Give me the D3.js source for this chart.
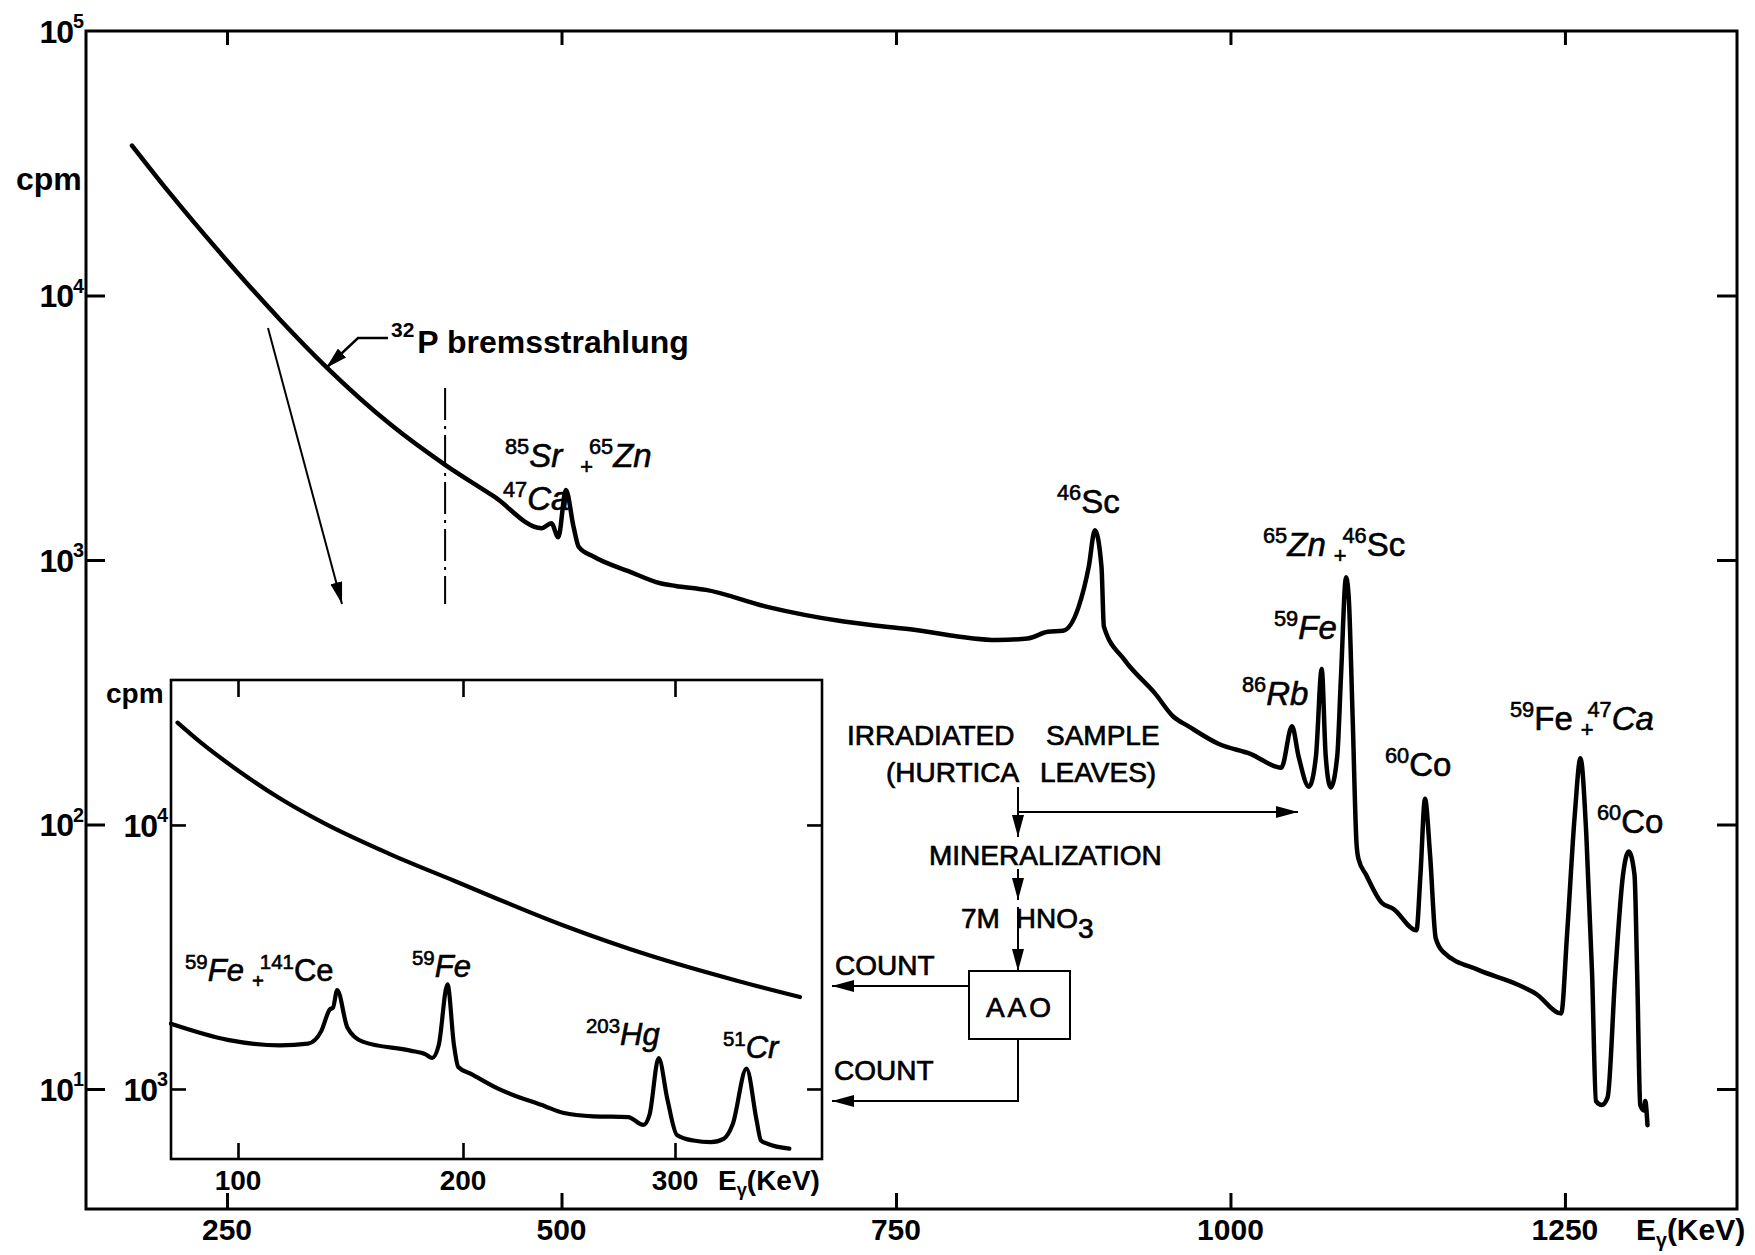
<!DOCTYPE html>
<html>
<head>
<meta charset="utf-8">
<script src="https://cdn.jsdelivr.net/npm/d3@7"></script>
<style>
  html, body { margin: 0; padding: 0; background: #fff; }
  svg { display: block; }
</style>
</head>
<body>
<svg id="chart" width="1755" height="1255"></svg>
<script>
// ---------------- DATA ----------------
// Main spectrum (irradiated sample), energy in keV, counts in cpm
const mainEnergy = [179, 206, 248, 289.5, 324.6, 373, 413, 449.8, 485.1, 492.4, 497.6, 503.3, 509, 512.9, 524.2,
  550.9, 573.8, 585.2, 608, 653.8, 711, 760.6, 825.5, 848.3, 863.6, 874.8, 886.5, 894.1, 898.7, 903.6, 905.4,
  920.8, 943.6, 957.2, 968.7, 991.8, 1014.9, 1038, 1046, 1050.9, 1058.7, 1063.9, 1068.2, 1071.2, 1074.9, 1079.8,
  1082.6, 1086.4, 1088.4, 1091.3, 1094.2, 1095.7, 1101.4, 1113, 1121.7, 1139, 1142, 1145.4, 1149.2, 1153.4, 1159.2,
  1185.2, 1214, 1228.4, 1247.2, 1251.6, 1257.3, 1261.6, 1266, 1270.3, 1273.2, 1277.5, 1281.9, 1287.6, 1293.4,
  1297.7, 1302, 1304, 1306.3, 1309.1, 1310, 1311.7];
const mainCounts = [36900, 24800, 13900, 8120, 5340, 3230, 2290, 1735, 1318, 1377, 1219, 1840, 1336, 1122, 1029,
  904, 817, 798, 771, 665, 585, 547, 498, 505, 535, 540, 665, 944, 1297, 944, 560,
  419, 313, 256, 235, 201, 185, 164, 235, 181, 139, 181, 387, 181, 138, 181,
  362, 861, 721, 256, 85, 74, 64.5, 50.6, 48, 39.8, 64.5, 125, 76.7, 37.2, 32.9,
  28.2, 24.9, 22.9, 19.3, 38.5, 108, 178, 91, 27.2, 9.0, 8.7, 9.3, 27.2, 64.5,
  79, 64.5, 27.2, 8.7, 8.3, 9.0, 7.3];

// Inset: upper curve (sample before AAO) and lower curve (after AAO)
const insetUpperEnergy = [73.1, 83.8, 99.2, 118, 138, 167, 196, 247.1, 288.2, 329.2, 358.9];
const insetUpperCounts = [24400, 20400, 16260, 12700, 10180, 7790, 6150, 4170, 3200, 2570, 2230];
const insetLowerEnergy = [70.2, 95.4, 118.6, 131.2, 137, 140.8, 142.2, 144.1, 148.6, 155.4, 176.6, 183.4, 186.3,
  189.2, 193.1, 196, 197.9, 204, 216.3, 238.9, 247.1, 261.5, 277.9, 285.1, 288, 292.3, 296.4, 300.9, 308.7,
  316.9, 323.1, 327.2, 333.7, 338.5, 340.5, 343.6, 353.9];
const insetLowerCounts = [1766, 1535, 1463, 1486, 1656, 2000, 2030, 2370, 1711, 1511, 1397, 1353, 1310,
  1463, 2490, 1463, 1211, 1138, 1005, 859, 813, 788, 783, 731, 800, 1310, 914, 670, 638,
  629, 649, 735, 1194, 758, 638, 620, 594];

// Tick values
const mainXTicks = [250, 500, 750, 1000, 1250];
const mainYExponents = [1, 2, 3, 4, 5];
const insetXTicks = [100, 200, 300];
const insetYExponents = [3, 4];

// ---------------- DRAWING ----------------
const svg = d3.select("#chart");
const FONT = "'Liberation Sans', Arial, sans-serif";

// Main scales
const M = { left: 86, right: 1737, top: 31, bottom: 1209 };
const x = d3.scaleLinear().domain([144.6, 1378.6]).range([M.left, M.right]);
const y = d3.scaleLog().domain([3.518, 1e5]).range([M.bottom, M.top]);

// Inset scales (slightly non-linear energy axis of the original)
const I = { left: 171, right: 822, top: 680, bottom: 1159 };
const xi = d3.scaleLinear().domain([70.2, 100, 200, 300, 369.3]).range([I.left, 238, 463, 675, I.right]);
const yi = d3.scaleLog().domain([543, 35400]).range([I.bottom, I.top]);

// arrow marker
const defs = svg.append("defs");
defs.append("marker").attr("id", "arr").attr("viewBox", "0 0 22 12")
  .attr("refX", 22).attr("refY", 6).attr("markerWidth", 22).attr("markerHeight", 12)
  .attr("markerUnits", "userSpaceOnUse").attr("orient", "auto")
  .append("path").attr("d", "M0,0 L22,6 L0,12 Z").attr("fill", "#000");

// ---------- main frame & axes ----------
svg.append("rect").attr("x", M.left).attr("y", M.top)
  .attr("width", M.right - M.left).attr("height", M.bottom - M.top)
  .attr("fill", "none").attr("stroke", "#000").attr("stroke-width", 3);

function styleAxis(g, w) {
  g.select(".domain").remove();
  g.selectAll(".tick line").attr("stroke", "#000").attr("stroke-width", w);
  g.selectAll(".tick text").remove();
}
const yTickVals = mainYExponents.filter(e => e < 5).map(e => Math.pow(10, e));
svg.append("g").attr("transform", `translate(${M.left},0)`)
  .call(d3.axisRight(y).tickValues(yTickVals).tickSize(19).tickFormat(""))
  .call(g => styleAxis(g, 3));
svg.append("g").attr("transform", `translate(${M.right},0)`)
  .call(d3.axisLeft(y).tickValues(yTickVals).tickSize(20).tickFormat(""))
  .call(g => styleAxis(g, 3));
svg.append("g").attr("transform", `translate(0,${M.bottom})`)
  .call(d3.axisTop(x).tickValues(mainXTicks).tickSize(16).tickFormat(""))
  .call(g => styleAxis(g, 3));
svg.append("g").attr("transform", `translate(0,${M.top})`)
  .call(d3.axisBottom(x).tickValues(mainXTicks).tickSize(14).tickFormat(""))
  .call(g => styleAxis(g, 3));

// power-of-ten labels
function powLabel(xr, yc, e, size) {
  const t = svg.append("text").attr("x", xr).attr("y", yc + size * 0.37)
    .attr("text-anchor", "end").attr("font-family", FONT).attr("font-weight", "bold")
    .attr("font-size", size).attr("letter-spacing", -1);
  t.append("tspan").text("10");
  t.append("tspan").attr("dy", -size * 0.45).attr("font-size", size * 0.62).text(e);
}
mainYExponents.forEach(e => powLabel(83, y(Math.pow(10, e)), e, 32));

svg.selectAll("text.mx").data(mainXTicks).enter().append("text").attr("class", "mx")
  .attr("x", d => x(d)).attr("y", 1240).attr("text-anchor", "middle")
  .attr("font-family", FONT).attr("font-weight", "bold").attr("font-size", 30).text(d => d);

function eLabel(xl, yb, size) {
  const t = svg.append("text").attr("x", xl).attr("y", yb).attr("font-family", FONT)
    .attr("font-weight", "bold").attr("font-size", size);
  t.append("tspan").text("E");
  t.append("tspan").attr("dy", size * 0.22).attr("font-size", size * 0.65).text("γ");
  t.append("tspan").attr("dy", -size * 0.22).text("(KeV)");
}
eLabel(1636, 1240, 30);

svg.append("text").attr("x", 16).attr("y", 190).attr("font-family", FONT)
  .attr("font-weight", "bold").attr("font-size", 32).text("cpm");

// ---------- main curve ----------
const mainData = mainEnergy.map((e, i) => [e, mainCounts[i]]);
const lineMain = d3.line().x(d => x(d[0])).y(d => y(d[1])).curve(d3.curveMonotoneX);
svg.append("path").datum(mainData).attr("d", lineMain)
  .attr("fill", "none").attr("stroke", "#000").attr("stroke-width", 4.5)
  .attr("stroke-linejoin", "round").attr("stroke-linecap", "round");

// ---------- isotope labels ----------
function iso(xl, yb, segs, size) {
  size = size || 33;
  const t = svg.append("text").attr("x", xl).attr("y", yb).attr("font-family", FONT)
    .attr("font-size", size).attr("stroke", "#000").attr("stroke-width", 0.6);
  let cur = 0;
  segs.forEach(s => {
    let shift = 0, fs = size;
    if (s.sup) { shift = -size * 0.4; fs = size * 0.66; }
    if (s.plus) { shift = size * 0.22; fs = size * 0.66; }
    const ts = t.append("tspan").attr("dy", shift - cur).attr("font-size", fs).text(s.t);
    if (s.it) ts.attr("font-style", "italic");
    if (s.dx) ts.attr("dx", s.dx);
    cur = shift;
  });
}
iso(505, 467, [{ t: "85", sup: 1 }, { t: "Sr", it: 1 }, { t: "+", plus: 1, dx: 18 }, { t: "65", sup: 1, dx: -4 }, { t: "Zn", it: 1 }]);
iso(503, 510, [{ t: "47", sup: 1 }, { t: "Ca", it: 1 }]);
iso(1057, 513, [{ t: "46", sup: 1 }, { t: "Sc" }]);
iso(1263, 556, [{ t: "65", sup: 1 }, { t: "Zn", it: 1 }, { t: "+", plus: 1, dx: 8 }, { t: "46", sup: 1, dx: -4 }, { t: "Sc" }]);
iso(1274, 639, [{ t: "59", sup: 1 }, { t: "Fe", it: 1 }]);
iso(1242, 705, [{ t: "86", sup: 1 }, { t: "Rb", it: 1 }]);
iso(1385, 776, [{ t: "60", sup: 1 }, { t: "Co" }]);
iso(1510, 730, [{ t: "59", sup: 1 }, { t: "Fe" }, { t: "+", plus: 1, dx: 8 }, { t: "47", sup: 1, dx: -6 }, { t: "Ca", it: 1 }]);
iso(1597, 833, [{ t: "60", sup: 1 }, { t: "Co" }]);

// ---------- bremsstrahlung annotation ----------
svg.append("path").attr("d", "M388,338 L358,338 L326,368").attr("fill", "none")
  .attr("stroke", "#000").attr("stroke-width", 2.5).attr("marker-end", "url(#arr)");
{
  const t = svg.append("text").attr("x", 391).attr("y", 353).attr("font-family", FONT)
    .attr("font-weight", "bold").attr("font-size", 32);
  t.append("tspan").attr("dy", -16).attr("font-size", 21).text("32");
  t.append("tspan").attr("dy", 16).attr("dx", 3).text("P bremsstrahlung");
}
svg.append("line").attr("x1", 268).attr("y1", 328).attr("x2", 342).attr("y2", 604)
  .attr("stroke", "#000").attr("stroke-width", 2).attr("marker-end", "url(#arr)");
svg.append("line").attr("x1", x(413)).attr("x2", x(413)).attr("y1", 388).attr("y2", 604)
  .attr("stroke", "#000").attr("stroke-width", 2).attr("stroke-dasharray", "32,6,3,6");

// ---------- inset ----------
svg.append("rect").attr("x", I.left).attr("y", I.top)
  .attr("width", I.right - I.left).attr("height", I.bottom - I.top)
  .attr("fill", "#fff").attr("stroke", "#000").attr("stroke-width", 2.6);
const yiTickVals = insetYExponents.map(e => Math.pow(10, e));
svg.append("g").attr("transform", `translate(${I.left},0)`)
  .call(d3.axisRight(yi).tickValues(yiTickVals).tickSize(15).tickFormat(""))
  .call(g => styleAxis(g, 2.6));
svg.append("g").attr("transform", `translate(${I.right},0)`)
  .call(d3.axisLeft(yi).tickValues(yiTickVals).tickSize(15).tickFormat(""))
  .call(g => styleAxis(g, 2.6));
svg.append("g").attr("transform", `translate(0,${I.bottom})`)
  .call(d3.axisTop(xi).tickValues(insetXTicks).tickSize(16).tickFormat(""))
  .call(g => styleAxis(g, 2.6));
svg.append("g").attr("transform", `translate(0,${I.top})`)
  .call(d3.axisBottom(xi).tickValues(insetXTicks).tickSize(17).tickFormat(""))
  .call(g => styleAxis(g, 2.6));
insetYExponents.forEach(e => powLabel(167, yi(Math.pow(10, e)), e, 32));
svg.selectAll("text.ix").data(insetXTicks).enter().append("text").attr("class", "ix")
  .attr("x", d => xi(d)).attr("y", 1190).attr("text-anchor", "middle")
  .attr("font-family", FONT).attr("font-weight", "bold").attr("font-size", 28).text(d => d);
eLabel(718, 1190, 28);
svg.append("text").attr("x", 106).attr("y", 703).attr("font-family", FONT)
  .attr("font-weight", "bold").attr("font-size", 28).text("cpm");

const lineInset = d3.line().x(d => xi(d[0])).y(d => yi(d[1])).curve(d3.curveMonotoneX);
svg.append("path").datum(insetUpperEnergy.map((e, i) => [e, insetUpperCounts[i]])).attr("d", lineInset)
  .attr("fill", "none").attr("stroke", "#000").attr("stroke-width", 4.2)
  .attr("stroke-linejoin", "round").attr("stroke-linecap", "round");
svg.append("path").datum(insetLowerEnergy.map((e, i) => [e, insetLowerCounts[i]])).attr("d", lineInset)
  .attr("fill", "none").attr("stroke", "#000").attr("stroke-width", 4.2)
  .attr("stroke-linejoin", "round").attr("stroke-linecap", "round");

iso(185, 981, [{ t: "59", sup: 1 }, { t: "Fe", it: 1 }, { t: "+", plus: 1, dx: 8 }, { t: "141", sup: 1, dx: -4 }, { t: "Ce" }], 31);
iso(412, 977, [{ t: "59", sup: 1 }, { t: "Fe", it: 1 }], 31);
iso(586, 1045, [{ t: "203", sup: 1 }, { t: "Hg", it: 1 }], 31);
iso(723, 1058, [{ t: "51", sup: 1 }, { t: "Cr", it: 1 }], 31);

// ---------- flow chart ----------
function fTxt(xl, yb, s, anchor) {
  return svg.append("text").attr("x", xl).attr("y", yb).attr("font-family", FONT)
    .attr("font-size", 28).attr("stroke", "#000").attr("stroke-width", 0.7)
    .attr("text-anchor", anchor || "start").text(s);
}
fTxt(847, 745, "IRRADIATED");
fTxt(1046, 745, "SAMPLE");
fTxt(886, 782, "(HURTICA");
fTxt(1040, 782, "LEAVES)");
fTxt(929, 865, "MINERALIZATION");
{
  const t = fTxt(961, 928, "7M ");
  t.append("tspan").attr("dx", 8).text("HNO");
  t.append("tspan").attr("dy", 10).text("3");
}
fTxt(835, 975, "COUNT");
fTxt(834, 1080, "COUNT");
svg.append("rect").attr("x", 969).attr("y", 971).attr("width", 101).attr("height", 68)
  .attr("fill", "none").attr("stroke", "#000").attr("stroke-width", 2);
fTxt(1020, 1017, "AAO", "middle").attr("letter-spacing", 3);

const fl = (d, m) => svg.append("path").attr("d", d).attr("fill", "none").attr("stroke", "#000")
  .attr("stroke-width", 2).attr("marker-end", m ? "url(#arr)" : null);
fl("M1018,787 L1018,837", true);
fl("M1018,812 L1298,812", true);
fl("M1018,869 L1018,900", true);
fl("M1018,907 L1018,971", true);
fl("M969,986 L832,986", true);
fl("M1018,1039 L1018,1101 L832,1101", true);
</script>
</body>
</html>
